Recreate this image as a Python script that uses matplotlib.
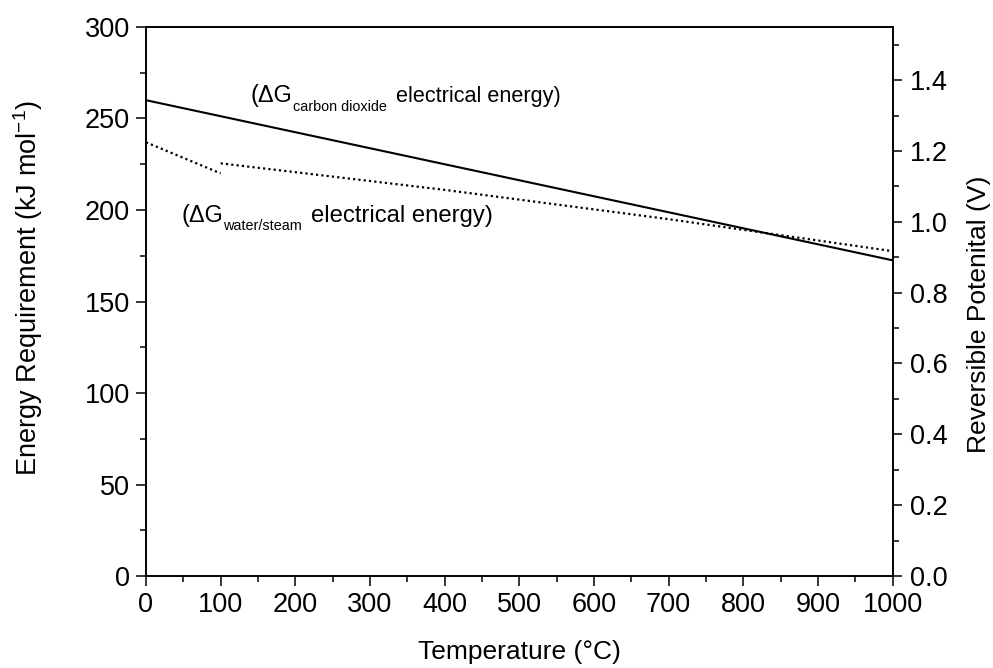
import matplotlib
matplotlib.use("Agg")
import matplotlib.pyplot as plt
from matplotlib.ticker import MultipleLocator

plt.rcParams['font.family'] = ['Liberation Sans', 'DejaVu Sans']
plt.rcParams['mathtext.fontset'] = 'custom'
plt.rcParams['mathtext.rm'] = 'Liberation Sans'
plt.rcParams['mathtext.it'] = 'Liberation Sans'
plt.rcParams['mathtext.default'] = 'regular'

# Data
co2_temp = [0, 1000]
co2_dG = [260.0, 172.5]

water_liq_temp = [0, 100]
water_liq_dG = [237.0, 220.0]

steam_temp = [100, 400, 700, 1000]
steam_dG = [225.5, 211.0, 195.0, 177.5]

x_ticks = [0, 100, 200, 300, 400, 500, 600, 700, 800, 900, 1000]
y_ticks = [0, 50, 100, 150, 200, 250, 300]
v_ticks = [0.0, 0.2, 0.4, 0.6, 0.8, 1.0, 1.2, 1.4]
v_max = 1.55

fig = plt.figure(figsize=(9.93, 6.68), dpi=100)
ax = fig.add_axes([0.147, 0.1377, 0.752, 0.8219])

ax.plot(co2_temp, co2_dG, color='black', lw=1.5, solid_capstyle='butt')
dot = (0, (1, 1.4))
ax.plot(water_liq_temp, water_liq_dG, color='black', lw=1.6, linestyle=dot)
ax.plot(steam_temp, steam_dG, color='black', lw=1.6, linestyle=dot)

ax.set_xlim(0, 1000)
ax.set_ylim(0, 300)
ax.set_xticks(x_ticks)
ax.set_yticks(y_ticks)
ax.xaxis.set_minor_locator(MultipleLocator(50))
ax.yaxis.set_minor_locator(MultipleLocator(25))
ax.tick_params(axis='both', which='major', direction='out', length=7.5, width=1.1,
               labelsize=19.5, top=False, right=False, pad=4)
ax.tick_params(axis='both', which='minor', direction='out', length=4.5, width=1.1,
               top=False, right=False)
for s in ax.spines.values():
    s.set_linewidth(1.2)

ax.set_xlabel('Temperature (\u00b0C)', fontsize=19, va='center')
ax.xaxis.set_label_coords(0.5, -0.138)
ax.set_ylabel('Energy Requirement (kJ mol$^{-1}$)', fontsize=19.5, va='center')
ax.yaxis.set_label_coords(-0.158, 0.525)

ax2 = ax.twinx()
ax2.set_ylim(0, v_max)
ax2.set_yticks(v_ticks)
ax2.set_yticklabels([f'{v:.1f}' for v in v_ticks])
ax2.yaxis.set_minor_locator(MultipleLocator(0.1))
ax2.tick_params(axis='y', which='major', direction='out', length=6.5, width=1.1,
                labelsize=19.5, pad=6)
ax2.tick_params(axis='y', which='minor', direction='out', length=4.5, width=1.1)
for s in ax2.spines.values():
    s.set_linewidth(1.2)
ax2.set_ylabel('Reversible Potenital (V)', fontsize=19, rotation=90, va='center')
ax2.yaxis.set_label_coords(1.115, 0.477)

# Annotations (main text + smaller subscript placed separately)
main_fs = 16.8
sub_fs = 10.4
ax.text(139.4, 259.2, '(\u0394G', fontsize=main_fs, ha='left', va='baseline')
ax.text(196.6, 254.3, 'carbon dioxide', fontsize=sub_fs, ha='left', va='baseline')
ax.text(335.0, 259.2, 'electrical energy)', fontsize=15.6, ha='left', va='baseline')

ax.text(47.0, 193.6, '(\u0394G', fontsize=main_fs, ha='left', va='baseline')
ax.text(102.8, 189.1, 'water/steam', fontsize=sub_fs, ha='left', va='baseline')
ax.text(220.6, 193.6, 'electrical energy)', fontsize=17.2, ha='left', va='baseline')

fig.savefig('out.png', dpi=100)
